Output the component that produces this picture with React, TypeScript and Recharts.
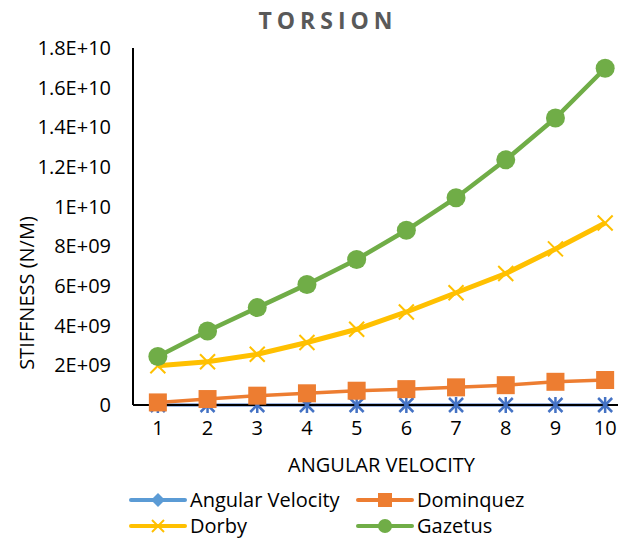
import { LineChart, Line, XAxis, YAxis } from 'recharts'

const velocity = [1, 2, 3, 4, 5, 6, 7, 8, 9, 10]
const angularVelocity = [1, 2, 3, 4, 5, 6, 7, 8, 9, 10]
const dominquez = [0.13e9, 0.3e9, 0.47e9, 0.59e9, 0.72e9, 0.8e9, 0.89e9, 1.0e9, 1.17e9, 1.26e9]
const dorby = [1.98e9, 2.18e9, 2.56e9, 3.15e9, 3.82e9, 4.69e9, 5.66e9, 6.63e9, 7.87e9, 9.18e9]
const gazetus = [2.45e9, 3.73e9, 4.91e9, 6.08e9, 7.34e9, 8.81e9, 10.45e9, 12.36e9, 14.47e9, 16.98e9]
const yTicks = [0, 2e9, 4e9, 6e9, 8e9, 1e10, 1.2e10, 1.4e10, 1.6e10, 1.8e10]

const data = velocity.map((v, i) => ({
  v,
  angular: angularVelocity[i],
  dominquez: dominquez[i],
  dorby: dorby[i],
  gazetus: gazetus[i],
}))

const FONT = '"Open Sans", "Noto Sans", sans-serif'

function fmtY(v: number) {
  if (v === 0) return '0'
  const exp = Math.floor(Math.log10(v))
  const m = +(v / Math.pow(10, exp)).toFixed(1)
  return `${m}E+${String(exp).padStart(2, '0')}`
}

function Asterisk(props: any) {
  const { cx, cy } = props
  if (cx == null || cy == null) return null
  const r = 7
  return (
    <g stroke="#4472C4" strokeWidth={2.5}>
      <line x1={cx - r} y1={cy - r} x2={cx + r} y2={cy + r} />
      <line x1={cx - r} y1={cy + r} x2={cx + r} y2={cy - r} />
      <line x1={cx} y1={cy - r - 1} x2={cx} y2={cy + r + 1} />
    </g>
  )
}

function Cross(props: any) {
  const { cx, cy } = props
  if (cx == null || cy == null) return null
  const r = 7.5
  return (
    <g stroke="#FFC000" strokeWidth={2}>
      <line x1={cx - r} y1={cy - r} x2={cx + r} y2={cy + r} />
      <line x1={cx - r} y1={cy + r} x2={cx + r} y2={cy - r} />
    </g>
  )
}

function Square(props: any) {
  const { cx, cy } = props
  if (cx == null || cy == null) return null
  return <rect x={cx - 9} y={cy - 9} width={18} height={18} fill="#ED7D31" />
}

function LegendItem({ color, marker, label, left, top }: { color: string; marker: string; label: string; left: number; top: number }) {
  return (
    <div style={{ position: 'absolute', left, top: top - 12, height: 24, display: 'flex', alignItems: 'center', fontFamily: FONT, fontSize: 20, lineHeight: '24px', color: '#000', whiteSpace: 'nowrap' }}>
      <svg width={58} height={20} style={{ marginRight: 3 }}>
        <line x1={2} y1={10} x2={56} y2={10} stroke={color} strokeWidth={4} strokeLinecap="round" />
        {marker === 'diamond' && <polygon points="29,3 36,10 29,17 22,10" fill={color} />}
        {marker === 'square' && <rect x={22} y={3} width={14} height={14} fill={color} />}
        {marker === 'cross' && (
          <g stroke={color} strokeWidth={2}>
            <line x1={23} y1={4} x2={35} y2={16} />
            <line x1={23} y1={16} x2={35} y2={4} />
          </g>
        )}
        {marker === 'circle' && <circle cx={29} cy={10} r={7} fill={color} />}
      </svg>
      <span>{label}</span>
    </div>
  )
}

export default function App() {
  return (
    <div style={{ position: 'absolute', left: 0, top: 0, width: 618, height: 540, overflow: 'hidden', background: '#fff' }}>
      <LineChart width={632} height={540} data={data} margin={{ top: 48, right: 2, bottom: 95, left: 0 }}>
        <XAxis
          dataKey="v"
          type="number"
          domain={[0.5, 10.5]}
          ticks={velocity}
          axisLine={{ stroke: '#000', strokeWidth: 2 }}
          tickLine={false}
          tick={{ fill: '#000', fontSize: 20, fontFamily: FONT }}
          tickMargin={10}
          height={40}
        />
        <YAxis
          domain={[0, 1.8e10]}
          ticks={yTicks}
          tickFormatter={fmtY}
          axisLine={{ stroke: '#000', strokeWidth: 2 }}
          tickLine={false}
          tickSize={0}
          tickMargin={22}
          width={133}
          tick={{ fill: '#000', fontSize: 20, fontFamily: FONT }}
        />
        <Line dataKey="angular" stroke="#4472C4" strokeWidth={3} dot={<Asterisk />} isAnimationActive={false} />
        <Line dataKey="dominquez" stroke="#ED7D31" strokeWidth={3.5} dot={<Square />} isAnimationActive={false} />
        <Line dataKey="dorby" stroke="#FFC000" strokeWidth={5} dot={<Cross />} isAnimationActive={false} />
        <Line dataKey="gazetus" stroke="#70AD47" strokeWidth={4.5} dot={{ r: 9.5, fill: '#70AD47', stroke: 'none' }} isAnimationActive={false} />
      </LineChart>

      <div style={{ position: 'absolute', left: 228, top: 4, width: 200, textAlign: 'center', fontFamily: FONT, fontSize: 23, fontWeight: 700, letterSpacing: 5, color: '#595959', lineHeight: '32px' }}>
        TORSION
      </div>
      <div style={{ position: 'absolute', left: 133, top: 451, width: 497, textAlign: 'center', fontFamily: FONT, fontSize: 20, color: '#000', lineHeight: '28px' }}>
        ANGULAR VELOCITY
      </div>
      <div
        style={{
          position: 'absolute',
          left: 26,
          top: 293,
          transform: 'translate(-50%, -50%) rotate(-90deg)',
          whiteSpace: 'nowrap',
          fontFamily: FONT,
          fontSize: 20,
          color: '#000',
        }}
      >
        STIFFNESS (N/M)
      </div>

      <LegendItem color="#5B9BD5" marker="diamond" label="Angular Velocity" left={129} top={500} />
      <LegendItem color="#ED7D31" marker="square" label="Dominquez" left={356} top={500} />
      <LegendItem color="#FFC000" marker="cross" label="Dorby" left={129} top={526} />
      <LegendItem color="#70AD47" marker="circle" label="Gazetus" left={356} top={526} />
    </div>
  )
}
